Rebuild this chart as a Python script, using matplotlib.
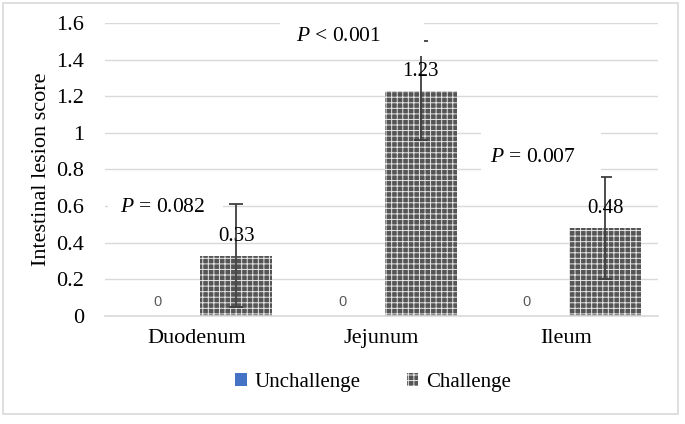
import numpy as np
import matplotlib.pyplot as plt
from matplotlib.patches import Patch, Rectangle

# data
segments = ["Duodenum", "Jejunum", "Ileum"]
unchallenge = [0, 0, 0]
challenge = [0.33, 1.23, 0.48]
challenge_err = [0.28, 0.27, 0.28]
p_labels = ["$P$ = 0.082", "$P$ < 0.001", "$P$ = 0.007"]
p_pos = [(-0.185, 0.595), (-0.235, 1.527), (-0.18, 0.867)]   # (x offset from group, y)
# white label boxes (x0, x1, y0, y1), as in the original text boxes
p_boxes = [(-0.48, 0.14, 0.44, 0.74), (0.451, 1.228, 1.42, 1.62),
           (1.538, 2.19, 0.75, 1.02)]

plt.rcParams["font.family"] = ["Liberation Serif", "DejaVu Serif"]
plt.rcParams["mathtext.fontset"] = "custom"
plt.rcParams["mathtext.it"] = "Liberation Serif:italic"
plt.rcParams["mathtext.rm"] = "Liberation Serif"
plt.rcParams["hatch.linewidth"] = 0.7

fig = plt.figure(figsize=(6.85, 4.24), dpi=100)
ax = fig.add_axes([0.153, 0.2547, 0.808, 0.6911])

x = np.arange(len(segments))
w = 0.39
off = 0.213
bar_face = "#555555"
bar_hatch = "+++"

ax.bar(x - off, unchallenge, w, color="#4472C4")
ax.bar(x + off, challenge, w, color=bar_face, edgecolor="#e6e6e6",
       hatch=bar_hatch, linewidth=0)
ax.errorbar(x + off, challenge, yerr=challenge_err, fmt="none",
            ecolor="#3f3f3f", elinewidth=1.3, capsize=5, capthick=1.3, zorder=3)

for xi, v in zip(x - off, unchallenge):
    ax.annotate(f"{v:g}", (xi, v), xytext=(0, 5), textcoords="offset points",
                ha="center", va="bottom", fontsize=10.5, color="#595959",
                family="Liberation Sans")
for xi, v in zip(x + off, challenge):
    ax.annotate(f"{v:g}", (xi, v), xytext=(0, 7), textcoords="offset points",
                ha="center", va="bottom", fontsize=15, zorder=4)

for x0, x1, y0, y1 in p_boxes:
    ax.add_patch(Rectangle((x0, y0), x1 - x0, y1 - y0, facecolor="white",
                           edgecolor="none", zorder=3.5, clip_on=False))
for xi, lab, (dx, y) in zip(x, p_labels, p_pos):
    ax.text(xi + dx, y, lab, ha="center", va="center", fontsize=15.5, zorder=5)

ax.set_xlim(-0.5, 2.5)
ax.set_ylim(0, 1.6)
ticks = np.arange(0, 1.61, 0.2).round(1)
ax.set_yticks(ticks)
ax.set_yticklabels([f"{t:g}" for t in ticks])
ax.set_xticks(x)
ax.set_xticklabels(segments)
ax.tick_params(axis="both", length=0, labelsize=16)
ax.tick_params(axis="x", pad=9)
ax.tick_params(axis="y", pad=15)
ax.set_ylabel("Intestinal lesion score", fontsize=16, labelpad=4)
ax.grid(axis="y", color="#d9d9d9", linewidth=1)
ax.set_axisbelow(True)
for s in ["top", "right", "left"]:
    ax.spines[s].set_visible(False)
ax.spines["bottom"].set_color("#d9d9d9")
ax.spines["bottom"].set_linewidth(1.2)

handles = [Patch(facecolor="#4472C4", label="Unchallenge"),
           Patch(facecolor=bar_face, edgecolor="#e6e6e6", hatch=bar_hatch,
                 linewidth=0, label="Challenge")]
fig.legend(handles=handles, loc="center", bbox_to_anchor=(0.545, 0.098),
           ncol=2, frameon=False, fontsize=15, handlelength=0.55,
           handleheight=0.55, handletextpad=0.4, columnspacing=2.2)

fig.patches.append(Rectangle((0.004, 0.024), 0.986, 0.97, transform=fig.transFigure,
                             fill=False, edgecolor="#d9d9d9", linewidth=1.2))

fig.savefig("out.png", dpi=100)
